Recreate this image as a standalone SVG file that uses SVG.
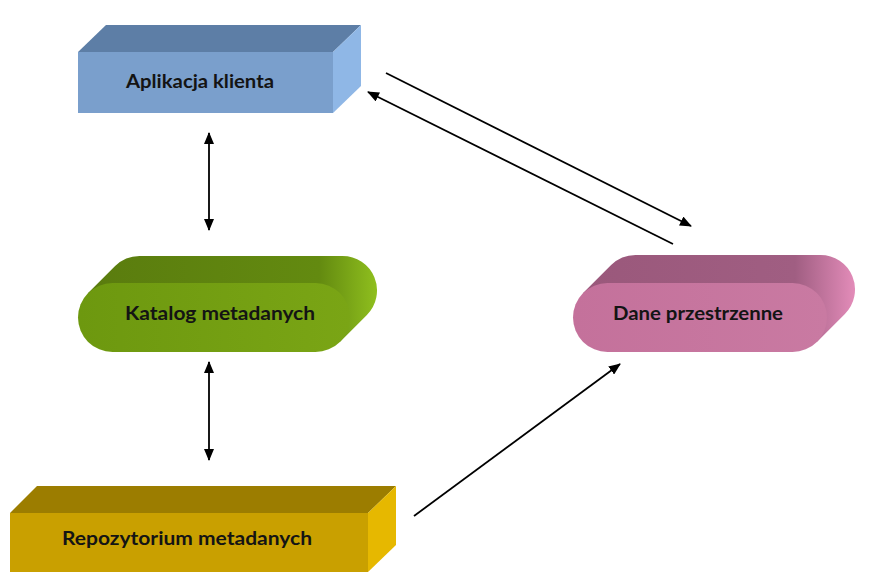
<svg xmlns="http://www.w3.org/2000/svg" width="878" height="579" viewBox="0 0 878 579">
<style>
.lbl{font-family:"Lato","Open Sans","Liberation Sans",sans-serif;font-weight:bold;font-size:19.5px;fill:#141414;text-anchor:middle}
.conn{stroke:#000;stroke-width:1.8;fill:none}
</style>
<defs>
<marker id="ah" viewBox="0 0 12 10" markerWidth="12" markerHeight="10" refX="11" refY="5" orient="auto-start-reverse" markerUnits="userSpaceOnUse">
<path d="M0,0 L12,5 L0,10 z" fill="#000"/>
</marker>
<linearGradient id="gSide" x1="0" y1="0" x2="1" y2="0">
<stop offset="0" stop-color="#5a7c0e"/><stop offset="0.8" stop-color="#638a10"/><stop offset="1" stop-color="#8fbf1e"/>
</linearGradient>
<linearGradient id="gFront" x1="0" y1="0" x2="1" y2="0">
<stop offset="0" stop-color="#6d980f"/><stop offset="1" stop-color="#7aa515"/>
</linearGradient>
<linearGradient id="pSide" x1="0" y1="0" x2="1" y2="0">
<stop offset="0" stop-color="#9a587b"/><stop offset="0.78" stop-color="#a05e82"/><stop offset="1" stop-color="#e38cb9"/>
</linearGradient>
<linearGradient id="pFront" x1="0" y1="0" x2="1" y2="0">
<stop offset="0" stop-color="#c4719b"/><stop offset="1" stop-color="#c97aa2"/>
</linearGradient>
</defs>

<g id="aplikacja">
<polygon points="78,52 106,25 361,25 333,52" fill="#5d7ea6"/>
<polygon points="333,52 361,25 361,86 333,113" fill="#8fb7e6"/>
<rect x="78" y="52" width="255" height="61" fill="#7a9fcc"/>
<text class="lbl" x="200" y="88" textLength="148" lengthAdjust="spacingAndGlyphs">Aplikacja klienta</text>
</g>

<g id="katalog">
<path d="M88.1,293.1 L115.1,266.1 A34.5,34.5 0 0 1 139.5,256 L342.5,256 A34.5,34.5 0 0 1 366.9,314.9 L339.9,341.9 Z" fill="url(#gSide)"/>
<rect x="78" y="283" width="272" height="69" rx="34.5" ry="34.5" fill="url(#gFront)"/>
<text class="lbl" x="220" y="320" textLength="190" lengthAdjust="spacingAndGlyphs">Katalog metadanych</text>
</g>

<g id="dane">
<path d="M583.1,293.1 L611.1,265.1 A34.5,34.5 0 0 1 635.5,255 L820.5,255 A34.5,34.5 0 0 1 844.9,313.9 L816.9,341.9 Z" fill="url(#pSide)"/>
<rect x="573" y="283" width="254" height="69" rx="34.5" ry="34.5" fill="url(#pFront)"/>
<text class="lbl" x="698" y="320" textLength="170" lengthAdjust="spacingAndGlyphs">Dane przestrzenne</text>
</g>

<g id="repozytorium">
<polygon points="10,513 37,486 396,486 368,513" fill="#9c7d00"/>
<polygon points="368,513 396,486 396,545 368,572" fill="#e6b800"/>
<rect x="10" y="513" width="358" height="59" fill="#c9a000"/>
<text class="lbl" x="187" y="545" textLength="250" lengthAdjust="spacingAndGlyphs">Repozytorium metadanych</text>
</g>

<g id="connectors">
<line class="conn" x1="209" y1="133" x2="209" y2="230" marker-start="url(#ah)" marker-end="url(#ah)"/>
<line class="conn" x1="209" y1="362" x2="209" y2="460" marker-start="url(#ah)" marker-end="url(#ah)"/>
<line class="conn" x1="386" y1="73" x2="691" y2="226" marker-end="url(#ah)"/>
<line class="conn" x1="673" y1="244" x2="368" y2="92" marker-end="url(#ah)"/>
<line class="conn" x1="414" y1="516" x2="620" y2="364" marker-end="url(#ah)"/>
</g>
</svg>
